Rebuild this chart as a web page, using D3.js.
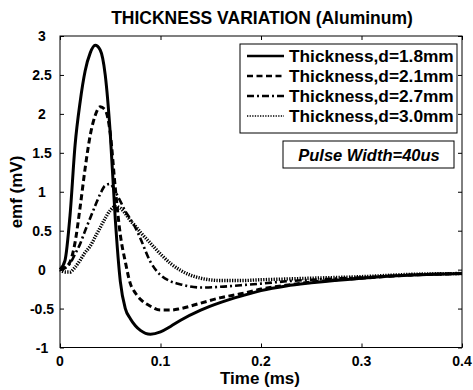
<!DOCTYPE html>
<html>
<head>
<meta charset="utf-8">
<script src="https://cdn.jsdelivr.net/npm/d3@7"></script>
<style>
  body { margin: 0; background: #fff; }
  text { font-family: "Liberation Sans", Arial, sans-serif; font-weight: bold; fill: #000; }
</style>
</head>
<body>
<div id="chart-area"></div>
<script>

// DATA
// =====

var timeMs = [0, 0.005, 0.01, 0.015, 0.02, 0.025, 0.03, 0.035, 0.04, 0.045, 0.05, 0.055,
    0.06, 0.065, 0.07, 0.075, 0.08, 0.09, 0.1, 0.11, 0.12, 0.14, 0.16, 0.18, 0.2, 0.225,
    0.25, 0.3, 0.35, 0.4];

var emf18 = [0, 0.12, 0.7, 1.6, 2.15, 2.55, 2.78, 2.88, 2.82, 2.5, 1.75, 0.65,
    -0.15, -0.5, -0.63, -0.72, -0.78, -0.83, -0.8, -0.73, -0.65, -0.52, -0.42, -0.34, -0.27, -0.21,
    -0.17, -0.11, -0.07, -0.05];

var emf21 = [0, 0.03, 0.1, 0.35, 0.8, 1.3, 1.72, 1.98, 2.09, 2.05, 1.75, 1.05,
    0.45, 0.1, -0.18, -0.3, -0.38, -0.47, -0.52, -0.52, -0.5, -0.43, -0.36, -0.31, -0.25, -0.2,
    -0.16, -0.11, -0.07, -0.05];

var emf27 = [0, 0.02, 0.08, 0.2, 0.33, 0.5, 0.66, 0.82, 0.97, 1.08, 1.1, 1.0,
    0.88, 0.75, 0.65, 0.54, 0.4, 0.1, -0.07, -0.15, -0.19, -0.23, -0.22, -0.2, -0.18, -0.15,
    -0.13, -0.1, -0.07, -0.05];

var emf30 = [0, -0.03, -0.03, 0.03, 0.12, 0.22, 0.3, 0.42, 0.54, 0.66, 0.76, 0.81,
    0.79, 0.72, 0.63, 0.56, 0.48, 0.34, 0.2, 0.08, -0.01, -0.11, -0.14, -0.14, -0.13, -0.12,
    -0.11, -0.09, -0.06, -0.05];

var seriesNames = ['Thickness,d=1.8mm', 'Thickness,d=2.1mm', 'Thickness,d=2.7mm', 'Thickness,d=3.0mm'];
var seriesValues = [emf18, emf21, emf27, emf30];

var xTicks = [0, 0.1, 0.2, 0.3, 0.4];
var yTicks = [-1, -0.5, 0, 0.5, 1, 1.5, 2, 2.5, 3];

// line styles per series
var dashes = [null, '6,3.5', '7,3,2,3', '1.3,1.3'];
var widths = [3, 3, 2.6, 3.4];


// CANVAS
// =======

var svgW = 473, svgH = 390;
var plot = { left: 60, right: 462, top: 36, bottom: 347.5 };

var svg = d3.select('#chart-area')
    .append('svg')
        .attr('width', svgW)
        .attr('height', svgH);

var x = d3.scaleLinear()
    .domain([0, 0.4])
    .range([plot.left, plot.right]);

var y = d3.scaleLinear()
    .domain([-1, 3])
    .range([plot.bottom, plot.top]);

// ticks (inside, on all four sides)
var tickLen = 4;
svg.append('g')
    .attr('transform', 'translate(0,' + plot.bottom + ')')
    .call(d3.axisTop(x).tickValues(xTicks).tickSize(tickLen).tickFormat(''))
    .call(g => g.select('.domain').remove());
svg.append('g')
    .attr('transform', 'translate(0,' + plot.top + ')')
    .call(d3.axisBottom(x).tickValues(xTicks).tickSize(tickLen).tickFormat(''))
    .call(g => g.select('.domain').remove());
svg.append('g')
    .attr('transform', 'translate(' + plot.left + ',0)')
    .call(d3.axisRight(y).tickValues(yTicks).tickSize(tickLen).tickFormat(''))
    .call(g => g.select('.domain').remove());
svg.append('g')
    .attr('transform', 'translate(' + plot.right + ',0)')
    .call(d3.axisLeft(y).tickValues(yTicks).tickSize(tickLen).tickFormat(''))
    .call(g => g.select('.domain').remove());

// tick labels
svg.selectAll('.xlab')
    .data(xTicks)
    .enter().append('text')
        .attr('class', 'xlab')
        .attr('x', d => x(d))
        .attr('y', 366)
        .attr('font-size', '14px')
        .attr('text-anchor', 'middle')
        .text(d => d);

svg.selectAll('.ylab')
    .data(yTicks)
    .enter().append('text')
        .attr('class', 'ylab')
        .attr('x', 42)
        .attr('y', d => y(d) + 5)
        .attr('font-size', '14px')
        .attr('text-anchor', 'middle')
        .text(d => d);

// frame
svg.append('rect')
    .attr('x', plot.left)
    .attr('y', plot.top)
    .attr('width', plot.right - plot.left)
    .attr('height', plot.bottom - plot.top)
    .attr('fill', 'none')
    .attr('stroke', '#000')
    .attr('stroke-width', 1);


// LINES
// ======

var line = d3.line()
    .x((d, i) => x(timeMs[i]))
    .y(d => y(d))
    .curve(d3.curveMonotoneX);

svg.selectAll('.series')
    .data(seriesValues)
    .enter().append('path')
        .attr('class', 'series')
        .attr('d', line)
        .attr('fill', 'none')
        .attr('stroke', '#000')
        .attr('stroke-width', (d, i) => widths[i])
        .attr('stroke-dasharray', (d, i) => dashes[i]);


// LABELS
// =======

svg.append('text')
    .attr('x', 262)
    .attr('y', 24)
    .attr('font-size', '17.5px')
    .attr('text-anchor', 'middle')
    .text('THICKNESS VARIATION (Aluminum)');

svg.append('text')
    .attr('x', 260)
    .attr('y', 384)
    .attr('font-size', '17px')
    .attr('text-anchor', 'middle')
    .text('Time (ms)');

svg.append('text')
    .attr('transform', 'translate(22,192) rotate(-90)')
    .attr('font-size', '17px')
    .attr('text-anchor', 'middle')
    .text('emf (mV)');


// LEGEND
// =======

var legend = svg.append('g');

legend.append('rect')
    .attr('x', 240)
    .attr('y', 44)
    .attr('width', 217)
    .attr('height', 89)
    .attr('fill', '#fff')
    .attr('stroke', '#000')
    .attr('stroke-width', 1);

var rows = legend.selectAll('.row')
    .data(seriesNames)
    .enter().append('g')
        .attr('class', 'row')
        .attr('transform', (d, i) => 'translate(0,' + (62 + i * 20) + ')');

rows.append('line')
    .attr('x1', 247)
    .attr('x2', 284)
    .attr('y1', -6)
    .attr('y2', -6)
    .attr('stroke', '#000')
    .attr('stroke-width', (d, i) => i == 3 ? 1.5 : 2.5)
    .attr('stroke-dasharray', (d, i) => dashes[i]);

rows.append('text')
    .attr('x', 289)
    .attr('y', 0)
    .attr('font-size', '17.3px')
    .text(d => d);

// pulse width note
svg.append('rect')
    .attr('x', 283)
    .attr('y', 141)
    .attr('width', 171)
    .attr('height', 27)
    .attr('fill', '#fff')
    .attr('stroke', '#000')
    .attr('stroke-width', 1);

svg.append('text')
    .attr('x', 369)
    .attr('y', 161)
    .attr('font-size', '16.5px')
    .attr('font-style', 'italic')
    .attr('text-anchor', 'middle')
    .text('Pulse Width=40us');

</script>
</body>
</html>
